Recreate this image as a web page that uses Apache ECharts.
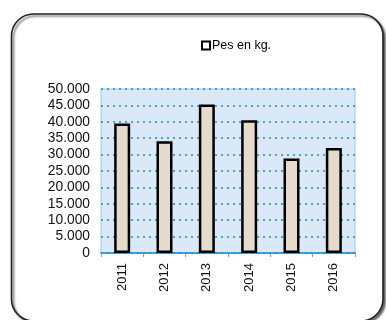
<!DOCTYPE html>
<html><head><meta charset="utf-8">
<script src="https://cdn.jsdelivr.net/npm/echarts@6/dist/echarts.min.js"></script>
<style>html,body{margin:0;padding:0;background:#fff}#c{width:386px;height:320px}</style>
</head><body><div id="c"></div>
<script>
const categories = ['2011','2012','2013','2014','2015','2016'];
const seriesName = 'Pes en kg.';
const values = [39500, 34100, 45300, 40500, 28800, 32000];
const yTicks = [0, 5000, 10000, 15000, 20000, 25000, 30000, 35000, 40000, 45000, 50000];

const fmt = v => String(v).replace(/\B(?=(\d{3})+(?!\d))/g, '.');
const chart = echarts.init(document.getElementById('c'), null, {renderer:'canvas'});
chart.setOption({
  animation:false,
  backgroundColor:'#fff',
  textStyle:{fontFamily:'Liberation Sans, Arial, sans-serif'},
  graphic:[{
    type:'rect', z:-1,
    shape:{x:11.5, y:14, width:371.5, height:307, r:22},
    style:{fill:'#fff', stroke:'#222', lineWidth:1.6, shadowColor:'rgba(0,0,0,0.55)', shadowBlur:2, shadowOffsetX:2, shadowOffsetY:2}
  }],
  legend:{
    left:196, top:34, itemWidth:8, itemHeight:8, icon:'rect',
    itemStyle:{color:'#fff', borderColor:'#000', borderWidth:2},
    textStyle:{fontSize:12.5, color:'#000', padding:[0,0,0,-3], fontFamily:'Liberation Sans, Arial, sans-serif'},
    data:[seriesName]
  },
  grid:{left:101, right:31, top:89, bottom:67, show:true, backgroundColor:'#dbe8f8', borderColor:'#8ccaee', borderWidth:1},
  xAxis:{
    type:'category', data:categories, boundaryGap:true,
    axisLine:{lineStyle:{color:'#1c8bd0', width:1.5}},
    axisTick:{show:true, length:4, lineStyle:{color:'#5aaee0'}},
    axisLabel:{rotate:90, fontSize:13, color:'#111', margin:10, fontFamily:'Liberation Sans, Arial, sans-serif'}
  },
  yAxis:{
    type:'value', min:0, max:50000, interval:5000,
    axisLine:{show:false}, axisTick:{show:false},
    axisLabel:{fontSize:13.8, color:'#111', margin:11, formatter:v=>fmt(v), fontFamily:'Liberation Sans, Arial, sans-serif'},
    splitLine:{lineStyle:{color:'#1c8bd0', width:1.5, type:[2,4]}}
  },
  series:[{
    name:seriesName, type:'bar', data:values, barWidth:16,
    itemStyle:{color:'#e4dbcd', borderColor:'#000', borderWidth:2.5}
  }]
});
</script></body></html>
